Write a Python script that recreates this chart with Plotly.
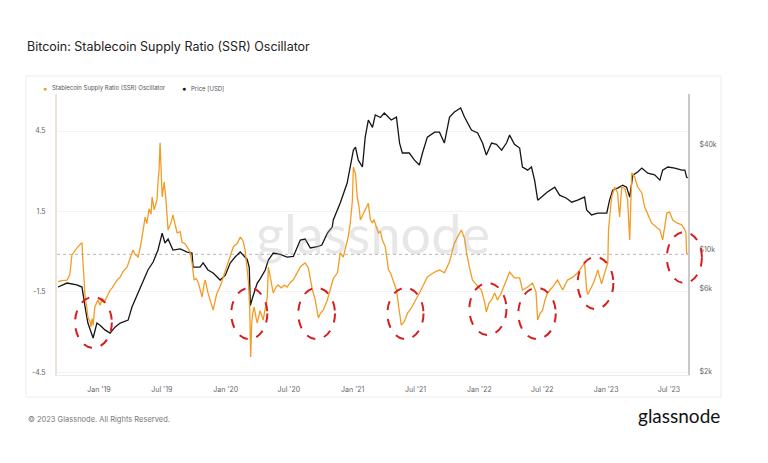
import plotly.graph_objects as go
from datetime import date

# ---------------- data ----------------
ssr_dates = [
    "2018-09-05", "2018-09-16", "2018-10-01", "2018-10-09", "2018-10-15", "2018-10-24",
    "2018-11-01", "2018-11-10", "2018-11-13", "2018-11-16", "2018-11-22", "2018-11-27",
    "2018-11-30", "2018-12-06", "2018-12-09", "2018-12-12", "2018-12-15", "2018-12-20",
    "2018-12-29", "2019-01-04", "2019-01-10", "2019-01-18", "2019-01-27", "2019-02-02",
    "2019-02-08", "2019-02-16", "2019-02-22", "2019-03-03", "2019-03-11", "2019-03-23",
    "2019-03-31", "2019-04-09", "2019-04-15", "2019-04-24", "2019-05-02", "2019-05-08",
    "2019-05-14", "2019-05-19", "2019-05-25", "2019-05-31", "2019-06-03", "2019-06-09",
    "2019-06-13", "2019-06-17", "2019-06-20", "2019-06-23", "2019-06-26", "2019-06-29",
    "2019-07-02", "2019-07-08", "2019-07-10", "2019-07-13", "2019-07-19", "2019-07-28",
    "2019-08-02", "2019-08-08", "2019-08-14", "2019-08-23", "2019-08-28", "2019-09-06",
    "2019-09-12", "2019-09-20", "2019-09-26", "2019-10-02", "2019-10-08", "2019-10-14",
    "2019-10-19", "2019-10-25", "2019-10-31", "2019-11-03", "2019-11-11", "2019-11-20",
    "2019-11-26", "2019-12-02", "2019-12-07", "2019-12-16", "2019-12-22", "2020-01-05",
    "2020-01-14", "2020-01-23", "2020-02-03", "2020-02-12", "2020-02-20", "2020-02-26",
    "2020-03-06", "2020-03-10", "2020-03-13", "2020-03-16", "2020-03-19", "2020-03-23",
    "2020-03-29", "2020-04-01", "2020-04-09", "2020-04-18", "2020-04-27", "2020-04-30",
    "2020-05-03", "2020-05-08", "2020-05-14", "2020-05-17", "2020-05-26", "2020-05-31",
    "2020-06-09", "2020-06-18", "2020-06-26", "2020-07-05", "2020-07-14", "2020-07-22",
    "2020-08-03", "2020-08-09", "2020-08-17", "2020-08-26", "2020-09-01", "2020-09-07",
    "2020-09-15", "2020-09-24", "2020-09-30", "2020-10-08", "2020-10-20", "2020-10-28",
    "2020-11-06", "2020-11-18", "2020-11-26", "2020-12-05", "2020-12-14", "2020-12-19",
    "2020-12-25", "2020-12-31", "2021-01-03", "2021-01-09", "2021-01-14", "2021-01-20",
    "2021-01-23", "2021-02-01", "2021-02-06", "2021-02-12", "2021-02-15", "2021-02-21",
    "2021-02-27", "2021-03-03", "2021-03-10", "2021-03-16", "2021-03-22", "2021-03-27",
    "2021-04-05", "2021-04-14", "2021-04-20", "2021-04-25", "2021-05-07", "2021-05-14",
    "2021-05-21", "2021-05-30", "2021-06-08", "2021-06-19", "2021-06-28", "2021-07-06",
    "2021-07-21", "2021-08-04", "2021-08-25", "2021-09-08", "2021-09-22", "2021-10-07",
    "2021-10-21", "2021-11-05", "2021-11-10", "2021-11-19", "2021-11-25", "2021-12-03",
    "2021-12-12", "2021-12-24", "2022-01-07", "2022-01-16", "2022-01-21", "2022-01-29",
    "2022-02-05", "2022-02-14", "2022-02-22", "2022-03-03", "2022-03-09", "2022-03-20",
    "2022-03-29", "2022-04-12", "2022-04-27", "2022-05-05", "2022-05-20", "2022-06-03",
    "2022-06-13", "2022-06-15", "2022-06-18", "2022-06-25", "2022-07-02", "2022-07-09",
    "2022-07-16", "2022-07-31", "2022-08-14", "2022-08-29", "2022-09-12", "2022-09-27",
    "2022-10-11", "2022-10-23", "2022-10-31", "2022-11-06", "2022-11-09", "2022-11-20",
    "2022-11-29", "2022-12-08", "2022-12-19", "2022-12-28", "2023-01-06", "2023-01-08",
    "2023-01-13", "2023-01-17", "2023-01-26", "2023-02-03", "2023-02-09", "2023-02-15",
    "2023-02-24", "2023-03-04", "2023-03-10", "2023-03-16", "2023-03-24", "2023-04-02",
    "2023-04-14", "2023-04-22", "2023-05-01", "2023-05-12", "2023-05-27", "2023-06-05",
    "2023-06-13", "2023-06-25", "2023-07-03", "2023-07-12", "2023-07-24", "2023-08-07",
    "2023-08-16", "2023-08-19", "2023-08-21", "2023-08-24",
]
ssr_values = [
    -1.12, -1.08, -1.06, -0.85, -0.12, 0.05,
    0.18, 0.30, 0.32, -0.42, -1.69, -2.10,
    -2.44, -2.60, -2.81, -2.50, -2.75, -2.06,
    -1.80, -2.00, -1.75, -1.85, -1.60, -1.43,
    -1.35, -1.20, -1.06, -0.95, -0.75, -0.57,
    -0.25, 0.06, -0.10, -0.20, 0.30, 0.81,
    1.29, 1.05, 1.60, 1.40, 2.04, 1.56,
    1.75, 1.93, 2.60, 3.05, 4.06, 3.00,
    2.04, 2.60, 2.41, 1.93, 0.81, 1.10,
    1.37, 1.00, 0.70, 0.75, 0.36, 0.30,
    0.18, 0.00, -0.42, -1.06, -1.00, -1.15,
    -1.40, -1.69, -1.20, -1.06, -1.54, -1.90,
    -2.18, -1.80, -1.54, -1.30, -1.06, -0.57,
    -0.20, 0.18, 0.30, 0.55, 0.40, 0.06,
    -1.06, -2.00, -3.93, -2.66, -2.30, -2.06,
    -2.50, -2.66, -2.20, -2.55, -1.90, -1.69,
    -0.57, -0.90, -1.20, -1.54, -1.30, -1.24,
    -1.35, -1.25, -1.32, -1.15, -1.05, -0.85,
    -0.57, -0.50, -0.42, -0.60, -1.00, -1.43,
    -1.80, -2.47, -2.30, -2.18, -1.80, -1.43,
    -1.00, -0.79, -0.05, -0.20, 0.30, 0.55,
    1.07, 1.90, 3.16, 2.90, 2.04, 1.60,
    1.18, 1.40, 1.55, 1.67, 1.80, 1.18,
    1.07, 1.20, 0.93, 0.70, 0.75, 0.45,
    0.18, -0.68, -0.80, -1.00, -1.43, -2.10,
    -2.74, -2.60, -2.29, -2.10, -1.91, -1.69,
    -1.32, -0.94, -0.76, -0.68, -0.79, -0.38,
    0.32, 0.70, 0.81, 0.50, -0.05, -0.57,
    -1.06, -1.24, -1.43, -1.88, -2.25, -1.90,
    -1.80, -1.54, -1.80, -1.60, -1.43, -1.06,
    -0.76, -0.98, -0.98, -1.43, -1.32, -1.17,
    -1.50, -1.93, -2.55, -2.30, -2.18, -1.80,
    -1.54, -1.32, -1.06, -1.43, -1.06, -0.95,
    -0.79, -0.57, -0.42, -1.43, -1.60, -1.32,
    -1.06, -0.68, -1.20, -0.79, -0.42, 0.81,
    1.60, 2.04, 2.41, 2.20, 1.29, 2.41,
    2.35, 1.93, 0.44, 2.94, 2.80, 2.41,
    2.19, 1.67, 1.40, 1.07, 0.90, 0.81,
    0.44, 1.44, 1.48, 1.18, 1.07, 1.00,
    0.81, 0.70, -0.05, -0.10,
]

price_dates = [
    "2018-09-05", "2018-10-01", "2018-10-29", "2018-11-13", "2018-11-22", "2018-11-30",
    "2018-12-15", "2018-12-26", "2019-01-04", "2019-01-18", "2019-02-02", "2019-02-16",
    "2019-03-03", "2019-03-26", "2019-04-06", "2019-04-21", "2019-05-08", "2019-05-22",
    "2019-06-06", "2019-06-20", "2019-07-02", "2019-07-10", "2019-07-19", "2019-08-02",
    "2019-08-23", "2019-09-12", "2019-09-26", "2019-09-29", "2019-10-19", "2019-10-28",
    "2019-11-11", "2019-11-26", "2019-12-16", "2019-12-31", "2020-01-14", "2020-01-28",
    "2020-02-12", "2020-02-26", "2020-03-03", "2020-03-09", "2020-03-12", "2020-03-19",
    "2020-04-01", "2020-04-09", "2020-04-24", "2020-05-03", "2020-05-17", "2020-06-06",
    "2020-06-26", "2020-07-14", "2020-08-03", "2020-08-17", "2020-09-01", "2020-09-21",
    "2020-10-04", "2020-10-20", "2020-11-03", "2020-11-06", "2020-11-26", "2020-12-16",
    "2021-01-03", "2021-01-09", "2021-01-17", "2021-01-29", "2021-02-06", "2021-02-15",
    "2021-02-27", "2021-03-07", "2021-03-22", "2021-04-02", "2021-04-22", "2021-05-07",
    "2021-05-16", "2021-05-24", "2021-06-13", "2021-06-28", "2021-07-12", "2021-07-21",
    "2021-08-04", "2021-08-25", "2021-09-08", "2021-09-22", "2021-10-07", "2021-10-21",
    "2021-11-08", "2021-11-19", "2021-12-09", "2021-12-27", "2022-01-10", "2022-01-21",
    "2022-02-05", "2022-02-19", "2022-03-06", "2022-03-20", "2022-03-29", "2022-04-12",
    "2022-04-27", "2022-05-05", "2022-05-20", "2022-05-31", "2022-06-09", "2022-06-18",
    "2022-06-29", "2022-07-16", "2022-08-06", "2022-08-20", "2022-09-09", "2022-09-24",
    "2022-10-11", "2022-10-31", "2022-11-06", "2022-11-20", "2022-12-08", "2023-01-03",
    "2023-01-11", "2023-01-20", "2023-02-03", "2023-02-18", "2023-03-01", "2023-03-10",
    "2023-03-19", "2023-04-02", "2023-04-14", "2023-05-01", "2023-05-21", "2023-06-05",
    "2023-06-13", "2023-06-28", "2023-07-18", "2023-08-07", "2023-08-16", "2023-08-21",
    "2023-08-24",
]
price_values = [
    6120, 6450, 6300, 6120, 4700, 3810,
    3130, 3810, 3700, 3480, 3340, 3610,
    3810, 3960, 4700, 5510, 6450, 7660,
    8500, 9960, 12440, 10920, 11500, 9960,
    10100, 9700, 9570, 7960, 7960, 8400,
    7660, 7360, 6710, 7150, 8400, 9080,
    9700, 9080, 8800, 7900, 4800, 5370,
    6450, 6800, 7660, 8730, 9570, 9400,
    9080, 9150, 11350, 11500, 10230, 10400,
    10640, 12440, 13470, 14780, 18490, 24040,
    37100, 38600, 32500, 29700, 44000, 55100,
    50000, 58900, 57000, 60400, 55100, 57300,
    40700, 35700, 35700, 32500, 30500, 35700,
    44000, 47000, 47000, 40700, 57300, 61200,
    64500, 57300, 48300, 46500, 40700, 34800,
    40700, 40000, 37100, 40700, 45200, 40000,
    38100, 29700, 28500, 29700, 25000, 19200,
    20000, 21400, 22800, 20500, 19700, 18700,
    19200, 20000, 16900, 15800, 16200, 16200,
    19200, 21900, 22500, 23400, 22800, 20000,
    26700, 27800, 29300, 27400, 26800, 25000,
    28500, 29700, 29300, 28500, 28500, 26000,
    25700,
]

left_tickvals = [-4.5, -1.5, 1.5, 4.5]
left_ticktext = ["-4.5", "-1.5", "1.5", "4.5"]
right_tickvals = [2000, 6000, 10000, 40000]
right_ticktext = ["$2k", "$6k", "$10k", "$40k"]
x_tickvals = ["2019-01-01", "2019-07-01", "2020-01-01", "2020-07-01", "2021-01-01",
              "2021-07-01", "2022-01-01", "2022-07-01", "2023-01-01", "2023-07-01"]
x_ticktext = ["Jan '19", "Jul '19", "Jan '20", "Jul '20", "Jan '21",
              "Jul '21", "Jan '22", "Jul '22", "Jan '23", "Jul '23"]

# highlighted SSR lows (start date, end date, low value, high value)
highlight_windows = [
    ("2018-10-24", "2019-02-07", -3.59, -1.69),
    ("2020-01-17", "2020-04-30", -3.26, -1.35),
    ("2020-07-28", "2020-11-11", -3.26, -1.35),
    ("2021-04-11", "2021-07-24", -3.26, -1.35),
    ("2021-12-03", "2022-03-20", -3.11, -1.17),
    ("2022-04-23", "2022-08-09", -3.26, -1.35),
    ("2022-10-11", "2023-01-22", -2.14, -0.20),
    ("2023-06-25", "2023-10-04", -1.17, 0.73),
]
zero_line_value = -0.1

X_RANGE = ["2018-09-02", "2023-08-25"]
Y_RANGE = [-4.60, 5.88]
Y2_RANGE = [3.284, 4.890]

ORANGE = "#F39C24"
BLACK = "#151515"
FONT = "Inter, Roboto, Open Sans, sans-serif"

fig = go.Figure()

fig.add_trace(go.Scatter(
    x=price_dates, y=price_values, mode="lines", name="Price [USD]",
    line=dict(color=BLACK, width=1.3), yaxis="y", showlegend=False,
    hoverinfo="skip"))
fig.add_trace(go.Scatter(
    x=ssr_dates, y=ssr_values, mode="lines",
    name="Stablecoin Supply Ratio (SSR) Oscillator",
    line=dict(color=ORANGE, width=1.3), yaxis="y2", showlegend=False,
    hoverinfo="skip"))

L, R, T, B = 57, 80, 94, 88
W, H = 768, 463
pw, ph = W - L - R, H - T - B


def px_x(px):
    return (px - L) / pw


def px_y(py):
    return (H - B - py) / ph


d0 = date.fromisoformat(X_RANGE[0])
d1 = date.fromisoformat(X_RANGE[1])


def date_frac(s):
    return (date.fromisoformat(s) - d0).days / (d1 - d0).days


shapes = []
# card
shapes.append(dict(type="rect", xref="paper", yref="paper",
                   x0=px_x(26), x1=px_x(721), y0=px_y(397), y1=px_y(76),
                   line=dict(color="#ececec", width=1), fillcolor="rgba(0,0,0,0)",
                   layer="below"))
# zero reference dotted line
shapes.append(dict(type="line", xref="paper", yref="y2", x0=0, x1=1,
                   y0=zero_line_value, y1=zero_line_value,
                   line=dict(color="#b5b5b5", width=1, dash="dot"), layer="below"))
# red dashed ellipses
for s, e, lo, hi in highlight_windows:
    shapes.append(dict(type="circle", xref="paper", yref="y2",
                       x0=date_frac(s), x1=date_frac(e), y0=lo, y1=hi,
                       line=dict(color="#D71E1E", width=2, dash="dash"),
                       layer="above"))

annotations = [
    # watermark
    dict(text="glassnode", xref="paper", yref="paper", x=px_x(373), y=px_y(233),
         showarrow=False, font=dict(family="Lato, Open Sans, sans-serif", size=54,
                                    color="rgba(170,170,170,0.28)"),
         xanchor="center", yanchor="middle"),
    # legend
    dict(text="●", xref="paper", yref="paper", x=px_x(45), y=px_y(88),
         showarrow=False, font=dict(size=7, color=ORANGE), xanchor="center",
         yanchor="middle"),
    dict(text="Stablecoin Supply Ratio (SSR) Oscillator", xref="paper", yref="paper",
         x=px_x(50), y=px_y(88), showarrow=False,
         font=dict(family=FONT, size=6, color="#555"), xanchor="left", yanchor="middle"),
    dict(text="●", xref="paper", yref="paper", x=px_x(184), y=px_y(88),
         showarrow=False, font=dict(size=7, color=BLACK), xanchor="center",
         yanchor="middle"),
    dict(text="Price [USD]", xref="paper", yref="paper", x=px_x(189), y=px_y(88),
         showarrow=False, font=dict(family=FONT, size=6, color="#555"),
         xanchor="left", yanchor="middle"),
    # footer
    dict(text="© 2023 Glassnode. All Rights Reserved.", xref="paper", yref="paper",
         x=px_x(26), y=px_y(419), showarrow=False,
         font=dict(family=FONT, size=7.5, color="#777"), xanchor="left",
         yanchor="middle"),
    dict(text="glassnode", xref="paper", yref="paper", x=px_x(722), y=px_y(415),
         showarrow=False, font=dict(family="Lato, Open Sans, sans-serif", size=19,
                                    color="#111"), xanchor="right", yanchor="middle"),
]

fig.update_layout(
    width=W, height=H,
    margin=dict(l=L, r=R, t=T, b=B),
    paper_bgcolor="white", plot_bgcolor="white",
    title=dict(text="Bitcoin: Stablecoin Supply Ratio (SSR) Oscillator",
               xref="container", yref="container", x=27 / W, y=1 - 47 / H,
               xanchor="left", yanchor="middle",
               font=dict(family=FONT, size=12.5, color="#222")),
    xaxis=dict(type="date", range=X_RANGE, tickvals=x_tickvals, ticktext=x_ticktext,
               showgrid=False, showline=True, linecolor="#ececec", linewidth=1,
               ticks="", tickfont=dict(family=FONT, size=7, color="#666"),
               ticklabelstandoff=8, zeroline=False),
    yaxis=dict(type="log", range=Y2_RANGE, side="right", tickvals=right_tickvals,
               ticktext=right_ticktext, showgrid=False, showline=True,
               linecolor="#c9c9c9", linewidth=2, ticks="",
               tickfont=dict(family=FONT, size=7, color="#666"),
               ticklabelstandoff=8, zeroline=False),
    yaxis2=dict(range=Y_RANGE, overlaying="y", side="left", tickvals=left_tickvals,
                ticktext=left_ticktext, showgrid=True, gridcolor="#f2f2f2",
                gridwidth=1, showline=True, linecolor="#ebe5d8", linewidth=2,
                ticks="", tickfont=dict(family=FONT, size=7, color="#666"),
                ticklabelstandoff=8, zeroline=False),
    shapes=shapes,
    annotations=annotations,
    showlegend=False,
)

fig.write_html("out.html")
